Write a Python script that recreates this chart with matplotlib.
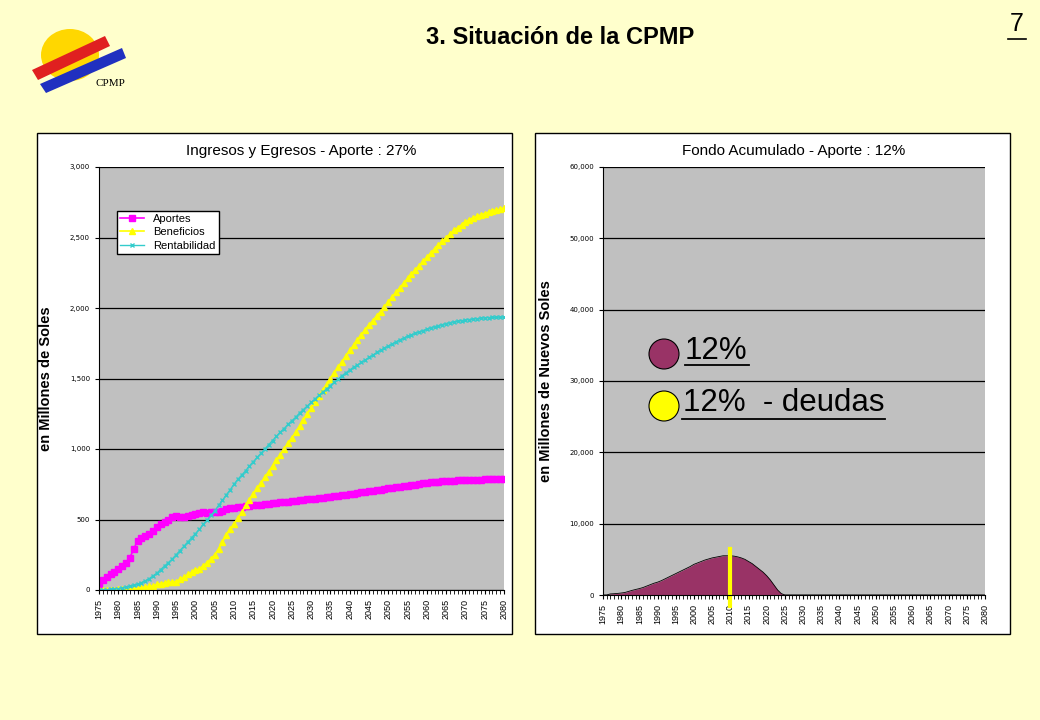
import matplotlib
matplotlib.use("Agg")
import matplotlib.pyplot as plt
from matplotlib.patches import Rectangle, Ellipse, Polygon
from matplotlib.lines import Line2D

years = list(range(1975, 2081))
aportes = [40,70,90,110,130,150,170,190,230,290,
           350,370,385,400,420,450,470,480,500,520,
           525,520,515,525,535,540,545,550,545,550,
           555,550,560,575,580,585,588,590,593,596,
           600,603,606,609,612,615,618,621,624,627,
           630,633,636,639,642,645,648,651,654,657,
           660,664,668,672,676,680,684,688,692,696,
           700,704,708,712,716,720,724,728,732,736,
           740,744,748,752,756,760,763,766,768,770,
           772,774,776,777,778,779,780,781,782,783,
           784,785,786,787,788,790]
beneficios = [0,0,0,2,3,4,5,6,7,8,
              10,15,20,25,30,40,45,50,55,55,
              60,75,90,110,125,140,150,170,195,220,
              250,290,340,390,430,470,510,550,600,640,
              680,720,760,800,840,880,920,960,1000,1040,
              1080,1120,1165,1205,1250,1290,1335,1375,1420,1460,
              1500,1540,1580,1620,1660,1700,1735,1770,1810,1845,
              1880,1910,1945,1975,2010,2040,2075,2110,2145,2175,
              2210,2240,2270,2300,2330,2360,2390,2420,2445,2475,
              2500,2525,2550,2570,2590,2610,2625,2640,2650,2660,
              2670,2680,2690,2695,2700,2710]
rentabilidad = [0,1,2,4,6,10,15,20,25,32,
                40,52,65,80,100,120,145,170,195,220,
                250,280,310,340,370,400,430,465,495,530,
                560,600,635,675,710,750,785,815,845,880,
                910,940,970,1000,1030,1060,1090,1120,1145,1175,
                1200,1225,1255,1280,1305,1330,1355,1380,1405,1425,
                1450,1475,1495,1520,1540,1560,1580,1595,1615,1630,
                1650,1665,1685,1700,1715,1730,1745,1760,1775,1785,
                1800,1810,1820,1830,1840,1850,1860,1868,1875,1882,
                1890,1896,1902,1906,1910,1915,1918,1921,1924,1927,
                1930,1932,1933,1934,1935,1935]
fondo_head = [0,0,150,180,220,280,350,500,650,780,
              900,1050,1250,1450,1650,1800,2000,2250,2500,2750,
              3000,3250,3500,3750,4000,4300,4500,4700,4900,5050,
              5200,5300,5400,5500,5500,5500,5450,5350,5200,5000,
              4700,4400,4000,3600,3200,2700,2100,1400,700,200,0]
fondo = fondo_head + [0] * (len(years) - len(fondo_head))
marker_year = 2010
marker_top = 6500
xtick_years = list(range(1975, 2081, 5))

W, H = 1040, 720
fig = plt.figure(figsize=(10.4, 7.2), dpi=100)
fig.patch.set_facecolor("#FFFFCC")

def fx(px): return px / W
def fy(py): return 1 - py / H

for x0 in (37, 535):
    fig.add_artist(Rectangle((fx(x0), fy(634)), fx(475), 501 / H, transform=fig.transFigure,
                             facecolor="white", edgecolor="black", lw=1, zorder=-5))

fig.text(fx(560), fy(38), "3. Situación de la CPMP", ha="center", va="center",
         fontsize=17, fontweight="bold", family="Liberation Sans")
fig.text(fx(1017), fy(24), "7", ha="center", va="center", fontsize=18, family="Liberation Sans")
fig.add_artist(Line2D([fx(1008), fx(1026)], [fy(39), fy(39)], color="black", lw=1.2))

# logo
fig.add_artist(Ellipse((fx(70), fy(55)), 58 / W, 52 / H, transform=fig.transFigure, facecolor="#FFD700", edgecolor="none"))
fig.add_artist(Polygon([(fx(32), fy(70)), (fx(105), fy(36)), (fx(110), fy(46)), (fx(38), fy(80))],
                       closed=True, transform=fig.transFigure, facecolor="#E02020", edgecolor="none"))
fig.add_artist(Polygon([(fx(40), fy(84)), (fx(122), fy(48)), (fx(126), fy(58)), (fx(46), fy(93))],
                       closed=True, transform=fig.transFigure, facecolor="#2030C0", edgecolor="none"))
fig.text(fx(110), fy(83), "CPMP", ha="center", va="center", fontsize=8, family="Liberation Serif")

def style(ax):
    ax.set_zorder(1)
    ax.set_facecolor("#C0C0C0")
    ax.set_xlim(1975, 2080)
    ax.set_xticks(xtick_years)
    ax.set_xticklabels([str(y) for y in xtick_years], rotation=90, fontsize=6.5, family="Liberation Sans")
    ax.set_xticks(years, minor=True)
    ax.tick_params(axis="x", which="both", direction="out", length=3)
    ax.tick_params(axis="y", labelsize=5, length=3)
    ax.grid(axis="y", color="black", lw=0.9)
    ax.set_axisbelow(True)
    for s in ("top", "right"):
        ax.spines[s].set_visible(False)

ax1 = fig.add_axes([fx(99), fy(590), fx(405), 423 / H])
style(ax1)
ax1.set_ylim(0, 3000)
ax1.set_yticks(range(0, 3001, 500))
ax1.set_yticklabels([f"{v:,}" for v in range(0, 3001, 500)])
ax1.plot(years, aportes, color="#FF00FF", marker="s", ms=4, lw=1.2, label="Aportes")
ax1.plot(years, beneficios, color="#FFFF00", marker="^", ms=4, lw=1.2, label="Beneficios")
ax1.plot(years, rentabilidad, color="#33CCCC", marker="x", ms=3, lw=1, label="Rentabilidad")
ax1.set_title("Ingresos y Egresos - Aporte : 27%", fontsize=11, family="Liberation Sans", pad=9)
ax1.set_ylabel("en Millones de Soles", fontsize=10.5, fontweight="bold", family="Liberation Sans", labelpad=12)
ax1.legend(loc="upper left", bbox_to_anchor=(0.03, 0.91), frameon=True,
           fancybox=False, edgecolor="black", framealpha=1, handlelength=2.2,
           prop={"family": "Liberation Sans", "size": 8}, borderpad=0.3, labelspacing=0.3)

ax2 = fig.add_axes([fx(603), fy(595), fx(382), 428 / H])
style(ax2)
ax2.set_ylim(0, 60000)
ax2.set_yticks(range(0, 60001, 10000))
ax2.set_yticklabels([f"{v:,}" for v in range(0, 60001, 10000)])
ax2.fill_between(years, fondo, color="#993366", lw=0)
ax2.plot(years, fondo, color="black", lw=0.6)
ax2.plot([marker_year, marker_year], [-1500, marker_top], color="#FFFF00", lw=3, clip_on=False)
ax2.set_title("Fondo Acumulado - Aporte : 12%", fontsize=11, family="Liberation Sans", pad=9)
ax2.set_ylabel("en Millones de Nuevos Soles", fontsize=10.5, fontweight="bold", family="Liberation Sans", labelpad=12)

for cy, col in ((354, "#993366"), (406, "#FFFF00")):
    e = Ellipse((fx(664), fy(cy)), 30 / W, 30 / H, transform=fig.transFigure,
                facecolor=col, edgecolor="black", lw=0.8, zorder=5)
    fig.add_artist(e)
fig.text(fx(685), fy(351), "12%", fontsize=22.5, va="center", family="Liberation Sans", zorder=5)
fig.add_artist(Line2D([fx(685), fx(749)], [fy(365), fy(365)], color="black", lw=1.3, zorder=5))
fig.text(fx(683), fy(403), "12%  - deudas", fontsize=22.5, va="center", family="Liberation Sans", zorder=5)
fig.add_artist(Line2D([fx(682), fx(885)], [fy(419), fy(419)], color="black", lw=1.3, zorder=5))

fig.savefig("out.png", dpi=100, facecolor=fig.get_facecolor())
